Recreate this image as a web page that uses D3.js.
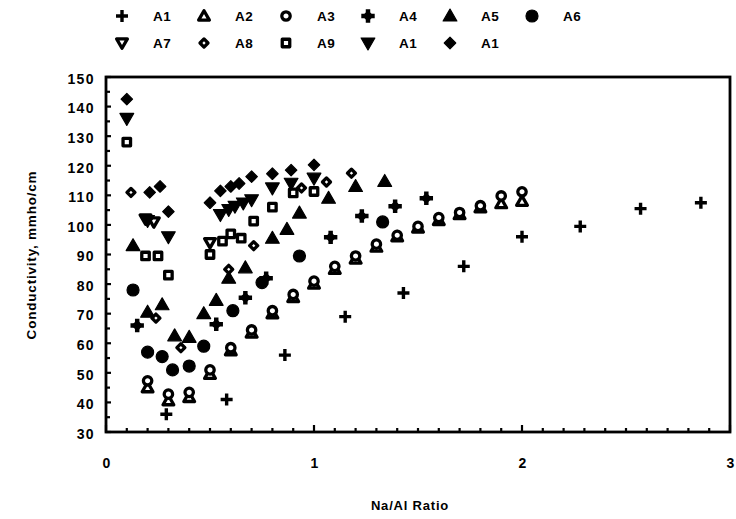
<!DOCTYPE html>
<html><head><meta charset="utf-8">
<script src="https://cdn.jsdelivr.net/npm/d3@7"></script>
<style>
html,body{margin:0;padding:0;background:#fff;}
text{font-family:"Liberation Sans",Arial,Helvetica,sans-serif;font-weight:bold;fill:#000;}
</style></head>
<body><svg id="c" width="736" height="519"></svg>
<script>
// ---- data ----
const seriesNames = ["A1","A2","A3","A4","A5","A6","A7","A8","A9","A1","A1"];
const xTicks = [0,1,2,3];
const yTicks = [30,40,50,60,70,80,90,100,110,120,130,140,150];
const xTitle = "Na/Al Ratio";
const yTitle = "Conductivity, mmho/cm";

const a1x = [0.29,0.58,0.86,1.15,1.43,1.72,2.0,2.28,2.57,2.86];
const a1y = [36,41,56,69,77,86,96,99.5,105.5,107.5];
const a2x = [0.2,0.3,0.4,0.5,0.6,0.7,0.8,0.9,1.0,1.1,1.2,1.3,1.4,1.5,1.6,1.7,1.8,1.9,2.0];
const a2y = [45,40.6,41.7,49.5,57.5,63.5,70,75.5,80,85,88.5,92.5,96,99,101.5,103.5,105.8,107.2,108];
const a3x = [0.2,0.3,0.4,0.5,0.6,0.7,0.8,0.9,1.0,1.1,1.2,1.3,1.4,1.5,1.6,1.7,1.8,1.9,2.0];
const a3y = [47.3,42.8,43.4,51,58.5,64.5,71,76.5,81,86,89.5,93.5,96.5,99.5,102.5,104.2,106.5,109.8,111.2];
const a4x = [0.15,0.53,0.67,0.77,1.08,1.23,1.39,1.54];
const a4y = [66,66.4,75.4,82,95.8,103,106.3,109];
const a5x = [0.13,0.2,0.27,0.33,0.4,0.47,0.53,0.59,0.67,0.8,0.87,0.93,1.07,1.2,1.34];
const a5y = [93,70.5,73,62.5,62,70,74.5,82,85.5,95.5,98.5,104,109,113,114.7];
const a6x = [0.13,0.2,0.27,0.32,0.4,0.47,0.61,0.75,0.93,1.33];
const a6y = [78,57,55.5,51,52.3,59,71,80.5,89.5,101];
const a7x = [0.19,0.23,0.5];
const a7y = [102,101,94];
const a8x = [0.12,0.24,0.36,0.59,0.71,0.94,1.06,1.18];
const a8y = [111,68.5,58.5,85,93,112.5,114.5,117.5];
const a9x = [0.1,0.19,0.25,0.3,0.5,0.56,0.6,0.65,0.71,0.8,0.9,1.0];
const a9y = [128,89.5,89.5,83,90,94.5,97,95.5,101.3,106,110.8,111.3];
const a10x = [0.1,0.2,0.3,0.55,0.59,0.62,0.66,0.7,0.8,0.89,1.0];
const a10y = [136,101.5,96,103.5,105.2,106.3,107.4,108.5,112.5,114.1,115.8];
const a11x = [0.1,0.21,0.26,0.3,0.5,0.55,0.6,0.64,0.7,0.8,0.89,1.0];
const a11y = [142.5,111,113,104.5,107.5,111.5,113,114,116.3,117.3,118.5,120.3];

const seriesX = [a1x,a2x,a3x,a4x,a5x,a6x,a7x,a8x,a9x,a10x,a11x];
const seriesY = [a1y,a2y,a3y,a4y,a5y,a6y,a7y,a8y,a9y,a10y,a11y];

// ---- marker styles ----
const markers = [
  {k:"plus"},
  {k:"tri", open:true},
  {k:"circ", open:true},
  {k:"fat"},
  {k:"tri"},
  {k:"circ"},
  {k:"tridown", open:true},
  {k:"diam", open:true},
  {k:"sq", open:true},
  {k:"tridown"},
  {k:"diam"}
];

const svg = d3.select("#c");
const L=106, R=730, T=77, B=432;
const x = d3.scaleLinear().domain([0,3]).range([L,R]);
const y = d3.scaleLinear().domain([30,150]).range([B,T]);

function drawMarker(g, m){
  const fill = m.open ? "#fff" : "#000";
  const sw = m.open ? 3.3 : 1.2;
  if(m.k==="plus"){
    g.append("path").attr("d","M-6,0L6,0M0,-6L0,6").attr("stroke","#000").attr("stroke-width",3.4).attr("fill","none");
  } else if(m.k==="fat"){
    g.append("path").attr("d",d3.symbol(d3.symbolSquare,64)()).attr("transform","rotate(45)").attr("fill","#000");
    g.append("path").attr("d",d3.symbol(d3.symbolCross,100)()).attr("fill","#000");
  } else if(m.k==="tri"){
    g.append("path").attr("d",d3.symbol(d3.symbolTriangle, m.open?50:82)()).attr("transform","translate(0,1)")
      .attr("fill",fill).attr("stroke","#000").attr("stroke-width",sw).attr("stroke-linejoin","round");
  } else if(m.k==="tridown"){
    g.append("path").attr("d",d3.symbol(d3.symbolTriangle, m.open?50:82)()).attr("transform","translate(0,-1) rotate(180)")
      .attr("fill",fill).attr("stroke","#000").attr("stroke-width",sw).attr("stroke-linejoin","round");
  } else if(m.k==="circ"){
    g.append("circle").attr("r", m.open?4.2:6).attr("fill",fill).attr("stroke","#000").attr("stroke-width",sw);
  } else if(m.k==="diam"){
    g.append("path").attr("d",d3.symbol(d3.symbolSquare, m.open?32:66)()).attr("transform","rotate(45)")
      .attr("fill",fill).attr("stroke","#000").attr("stroke-width",sw).attr("stroke-linejoin","round");
  } else if(m.k==="sq"){
    g.append("path").attr("d",d3.symbol(d3.symbolSquare, 56)())
      .attr("fill",fill).attr("stroke","#000").attr("stroke-width",sw).attr("stroke-linejoin","round");
  }
}

// ---- axes (labels via d3 axis) ----
const yAxis = d3.axisLeft(y).tickValues(yTicks).tickSize(0).tickPadding(11).tickFormat(d3.format("d"));
const gy = svg.append("g").attr("transform",`translate(${L},0)`).call(yAxis);
gy.selectAll("text").attr("font-size",14).attr("letter-spacing",1.4).attr("dy","0.45em");

const xAxis = d3.axisBottom(x).tickValues(xTicks).tickSize(0).tickPadding(26).tickFormat(d3.format("d"));
const gx = svg.append("g").attr("transform",`translate(0,${B})`).call(xAxis);
gx.selectAll("text").attr("font-size",14);
svg.selectAll(".domain").remove();

// inward tick marks
const yTickVals = d3.range(30,151,5);
svg.append("g").selectAll("line").data(yTickVals).join("line")
  .attr("x1",L).attr("x2",d=>L+(d%10===0?5:4)).attr("y1",d=>y(d)).attr("y2",d=>y(d))
  .attr("stroke","#000").attr("stroke-width",2.2);
const xTickVals = d3.range(0,31).map(i=>i/10);
svg.append("g").selectAll("line").data(xTickVals).join("line")
  .attr("x1",d=>x(d)).attr("x2",d=>x(d)).attr("y1",B).attr("y2",(d,i)=>B-(i%10===0?7:4))
  .attr("stroke","#000").attr("stroke-width",2.2);

svg.append("rect").attr("x",L).attr("y",T).attr("width",R-L).attr("height",B-T)
  .attr("fill","none").attr("stroke","#000").attr("stroke-width",2.8);

// titles
svg.append("text").attr("x",410).attr("y",510).attr("text-anchor","middle").attr("font-size",13).attr("letter-spacing",0.8).text(xTitle);
svg.append("text").attr("transform","translate(36,255) rotate(-90)").attr("text-anchor","middle").attr("font-size",13.5).attr("letter-spacing",0.8).text(yTitle);

// ---- points ----
seriesX.forEach((xs,si)=>{
  const g = svg.append("g");
  xs.forEach((xv,i)=>{
    const p = g.append("g").attr("transform",`translate(${x(xv)},${y(seriesY[si][i])})`);
    drawMarker(p, markers[si]);
  });
});

// ---- legend ----
seriesNames.forEach((nm,i)=>{
  const row = i<6?0:1, col=i%6;
  const sx = 122 + col*82, sy = row===0?16:43;
  const g = svg.append("g").attr("transform",`translate(${sx},${sy})`);
  drawMarker(g, markers[i]);
  svg.append("text").attr("x",sx+31).attr("y",sy+5).attr("font-size",13.5).attr("letter-spacing",0.5).text(nm);
});
</script></body></html>
